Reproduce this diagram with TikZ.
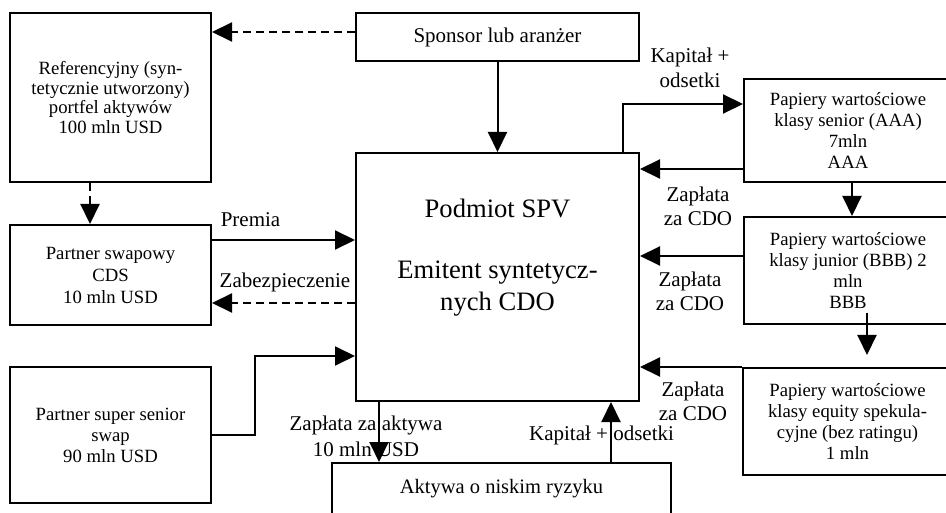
\documentclass[tikz,border=0pt]{standalone}
\usepackage{fontspec}
\setmainfont{Liberation Serif}
\usetikzlibrary{arrows.meta}
\begin{document}
\begin{tikzpicture}[x=1pt,y=-1pt,
  box/.style={draw, line width=2pt, rectangle, inner sep=0pt, align=center, font=\fontsize{18.7}{21}\selectfont},
  conn/.style={line width=2pt, -{Triangle[length=20pt,width=19pt]}},
  dconn/.style={conn, dash pattern=on 8pt off 5pt},
  lbl/.style={inner sep=0pt, align=center, font=\fontsize{21}{24}\selectfont}]
\path[use as bounding box, clip] (0,0) rectangle (946,513);

% boxes
\node[box, minimum width=201pt, minimum height=169pt, font=\fontsize{18.7}{19.8}\selectfont] (ref) at (110.5,97.5) {Referencyjny (syn-\\tetycznie utworzony)\\portfel aktywów\\100 mln USD};
\node[box, minimum width=283pt, minimum height=48pt, font=\fontsize{21}{24}\selectfont] (sponsor) at (497.5,37) {Sponsor lub aranżer};
\node[box, minimum width=201pt, minimum height=100pt, font=\fontsize{18.7}{22}\selectfont] (cds) at (110.5,275) {Partner swapowy\\CDS\\10 mln USD};
\node[box, minimum width=201pt, minimum height=136pt] (sss) at (110.5,435) {Partner super senior\\swap\\90 mln USD};
\node[box, minimum width=283pt, minimum height=248pt] (spv) at (497.5,277) {};
\node[inner sep=0pt, align=center, font=\fontsize{26.6}{32}\selectfont] (spvtext) at (497.5,258) {Podmiot SPV\\[29pt]Emitent syntetycz-\\nych CDO};
\node[box, minimum width=208pt, minimum height=103pt] (senior) at (848,130.5) {Papiery wartościowe\\klasy senior (AAA)\\7mln\\AAA};
\node[box, minimum width=208pt, minimum height=107pt] (junior) at (848,270.5) {Papiery wartościowe\\klasy junior (BBB) 2\\mln\\BBB};
\node[box, minimum width=209pt, minimum height=107pt] (equity) at (847.5,421.5) {Papiery wartościowe\\klasy equity spekula-\\cyjne (bez ratingu)\\1 mln};
\node[box, minimum width=339pt, minimum height=52pt, font=\fontsize{20.5}{24}\selectfont] (aktywa) at (501.5,489) {Aktywa o niskim ryzyku};

% helper coordinates
\coordinate (ya) at (0,32);
\coordinate (xb) at (90,0);
\coordinate (yc) at (0,240);
\coordinate (yd) at (0,303);
\coordinate (xe) at (255,0);
\coordinate (ye) at (0,356);
\coordinate (xf) at (379,0);
\coordinate (xg) at (611,0);
\coordinate (xh) at (623,0);
\coordinate (yh) at (0,104);
\coordinate (yi) at (0,169);
\coordinate (xj) at (852,0);
\coordinate (yk) at (0,256);
\coordinate (xl) at (867,0);
\coordinate (yl1) at (0,313);
\coordinate (yl2) at (0,355);

% connectors
\draw[dconn] (sponsor.west |- ya) -- (ref.east |- ya);
\draw[dconn] (ref.south -| xb) -- (cds.north -| xb);
\draw[conn] (cds.east |- yc) -- (spv.west |- yc);
\draw[dconn] (spv.west |- yd) -- (cds.east |- yd);
\draw[conn] (sss.east) -| (xe |- ye) -- (spv.west |- ye);
\draw[conn] (sponsor.south) -- (spv.north);
\draw[conn] (spv.south -| xf) -- (aktywa.north -| xf);
\draw[conn] (aktywa.north -| xg) -- (spv.south -| xg);
\draw[conn] (spv.north -| xh) |- (senior.west |- yh);
\draw[conn] (senior.west |- yi) -- (spv.east |- yi);
\draw[conn] (senior.south -| xj) -- (junior.north -| xj);
\draw[conn] (junior.west |- yk) -- (spv.east |- yk);
\draw[conn] (xl |- yl1) -- (xl |- yl2);
\draw[conn] (equity.north west) -- (spv.east |- equity.north);

% labels
\node[lbl, font=\fontsize{21}{25}\selectfont] (lkap1) at (690,67.5) {Kapitał +\\odsetki};
\node[lbl] (lz1) at (698,206.5) {Zapłata\\za CDO};
\node[lbl] (lz2) at (690,291.5) {Zapłata\\za CDO};
\node[lbl] (lz3) at (693,401.5) {Zapłata\\za CDO};
\node[lbl] (lzab) at (285,282) {Zabezpieczenie};
\node[lbl] (lprem) at (250.5,220) {Premia};
\node[lbl, font=\fontsize{21}{26}\selectfont] (lakt) at (366,436) {Zapłata za aktywa\\10 mln USD};
\node[lbl] (lkap2) at (601.5,435) {Kapitał + odsetki};
\end{tikzpicture}
\end{document}
